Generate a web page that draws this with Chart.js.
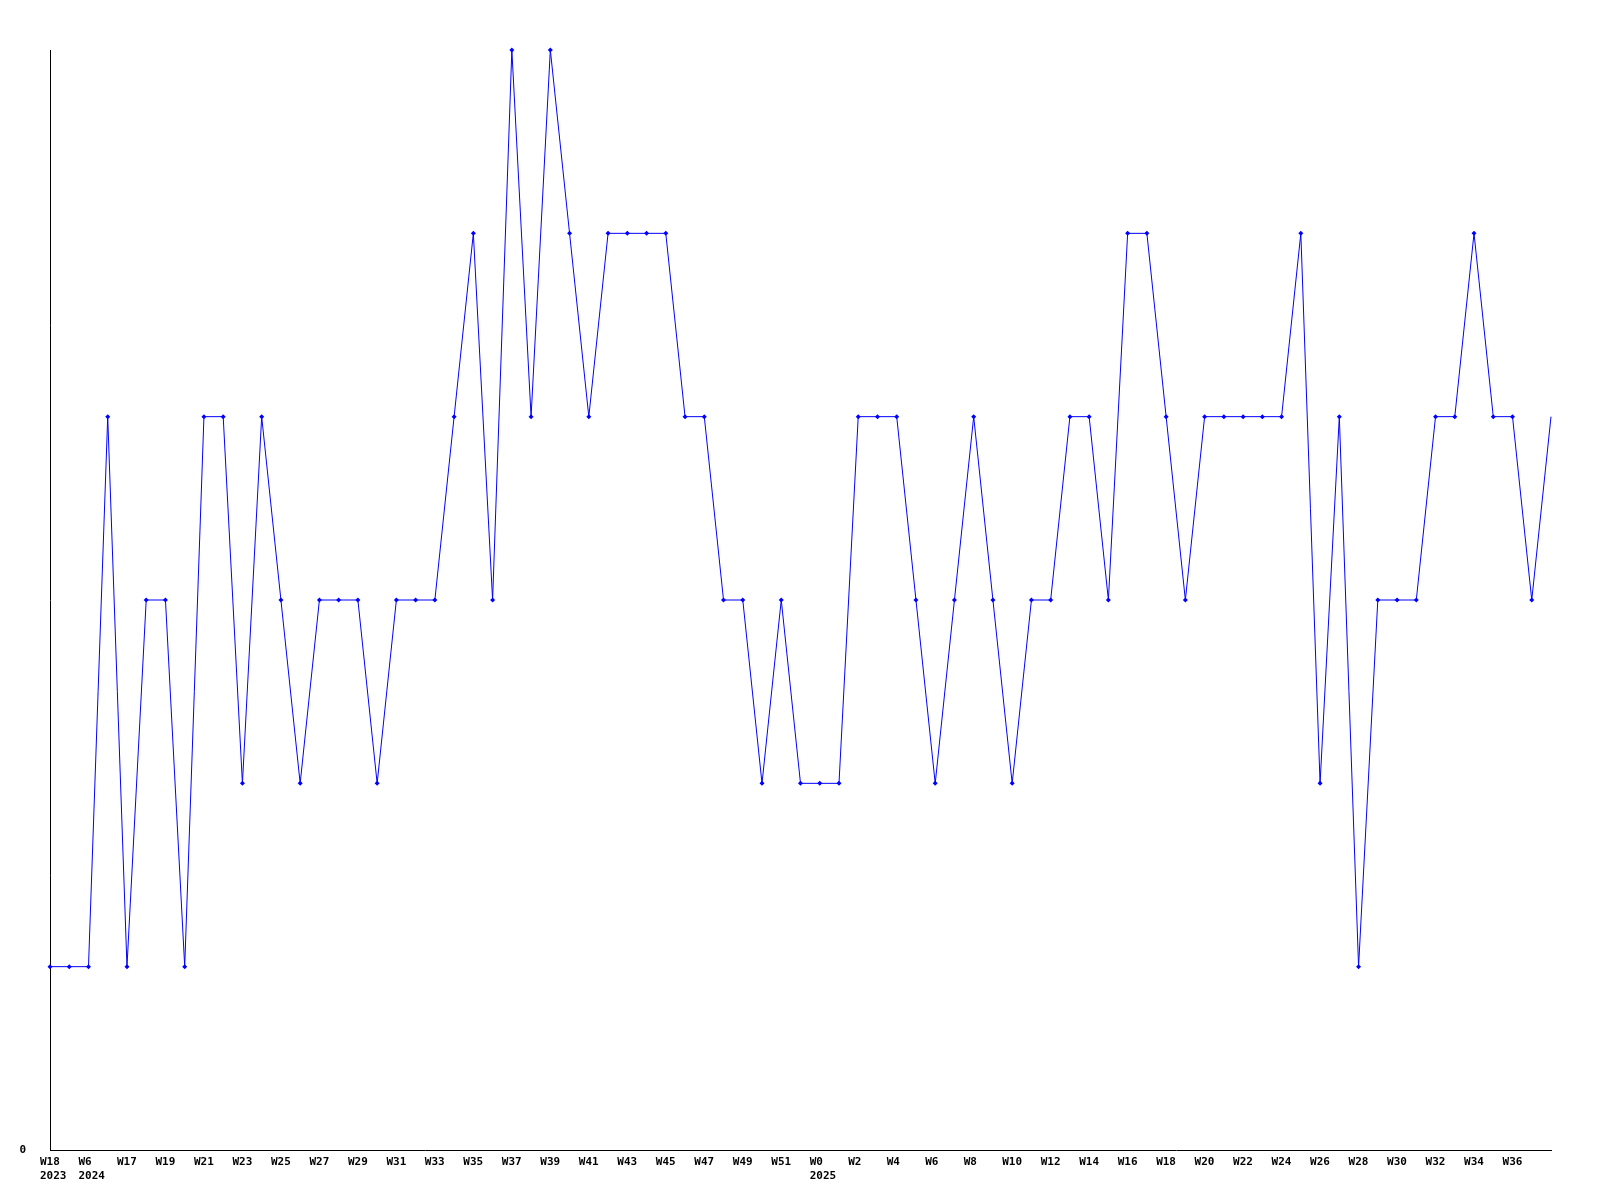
<!DOCTYPE html>
<html>
<head>
<meta charset="utf-8">
<script src="https://cdn.jsdelivr.net/npm/chart.js@4/dist/chart.umd.min.js"></script>
<style>
html,body{margin:0;padding:0;background:#fff;}
#wrap{width:1600px;height:1200px;position:relative;}
</style>
</head>
<body>
<div id="wrap"><canvas id="c" width="1600" height="1200"></canvas></div>
<script>
// Week labels (odd positions and the final point are not shown on the axis)
const weeks = [
  'W18','W19','W6','W16','W17','W18','W19','W20','W21','W22',
  'W23','W24','W25','W26','W27','W28','W29','W30','W31','W32',
  'W33','W34','W35','W36','W37','W38','W39','W40','W41','W42',
  'W43','W44','W45','W46','W47','W48','W49','W50','W51','W52',
  'W0','W1','W2','W3','W4','W5','W6','W7','W8','W9',
  'W10','W11','W12','W13','W14','W15','W16','W17','W18','W19',
  'W20','W21','W22','W23','W24','W25','W26','W27','W28','W29',
  'W30','W31','W32','W33','W34','W35','W36','W37','W38'
];
// Year shown under the first week of each year
const years = {0:'2023', 2:'2024', 40:'2025'};

const values = [
  1,1,1,4,1,3,3,1,4,4,
  2,4,3,2,3,3,3,2,3,3,
  3,4,5,3,6,4,6,5,4,5,
  5,5,5,4,4,3,3,2,3,2,
  2,2,4,4,4,3,2,3,4,3,
  2,3,3,4,4,3,5,5,4,3,
  4,4,4,4,4,5,2,4,1,3,
  3,3,4,4,5,4,4,3,4
];

const yTickLabels = ['0'];

const labels = weeks.map((w, i) => years[i] ? [w, years[i]] : w);
const lastIdx = values.length - 1;
const radii = values.map((v, i) => i === lastIdx ? 0 : 2.5);

const font = {family: "'DejaVu Sans Mono', 'Liberation Mono', monospace", size: 11, weight: 'bold', lineHeight: '14px'};

new Chart(document.getElementById('c'), {
  type: 'line',
  data: {
    labels: labels,
    datasets: [{
      data: values,
      borderColor: '#0000ff',
      backgroundColor: '#0000ff',
      borderWidth: 1,
      pointStyle: 'rectRot',
      pointRadius: radii,
      pointBorderWidth: 0,
      pointHoverRadius: radii,
      tension: 0,
      fill: false,
      clip: false
    }]
  },
  options: {
    responsive: false,
    animation: false,
    events: [],
    layout: {padding: {top: 50, right: 49, left: 0, bottom: 0}},
    plugins: {legend: {display: false}, tooltip: {enabled: false}, title: {display: false}},
    scales: {
      x: {
        type: 'category',
        offset: false,
        grid: {display: false, drawTicks: false},
        border: {display: true, color: '#000', width: 1},
        afterFit: s => { s.height = 50; },
        ticks: {
          autoSkip: false,
          maxRotation: 0,
          minRotation: 0,
          align: 'start',
          labelOffset: -10,
          padding: 5,
          color: '#000',
          font: font,
          callback: function(v, i) { return (i % 2 === 0 && i !== lastIdx) ? labels[i] : ''; }
        }
      },
      y: {
        min: 0,
        max: 6,
        grid: {display: false, drawTicks: false},
        border: {display: true, color: '#000', width: 1},
        afterFit: s => { s.width = 50; },
        ticks: {
          stepSize: 1,
          padding: 24,
          color: '#000',
          font: font,
          callback: v => v === 0 ? yTickLabels[0] : ''
        }
      }
    }
  }
});
</script>
</body>
</html>
